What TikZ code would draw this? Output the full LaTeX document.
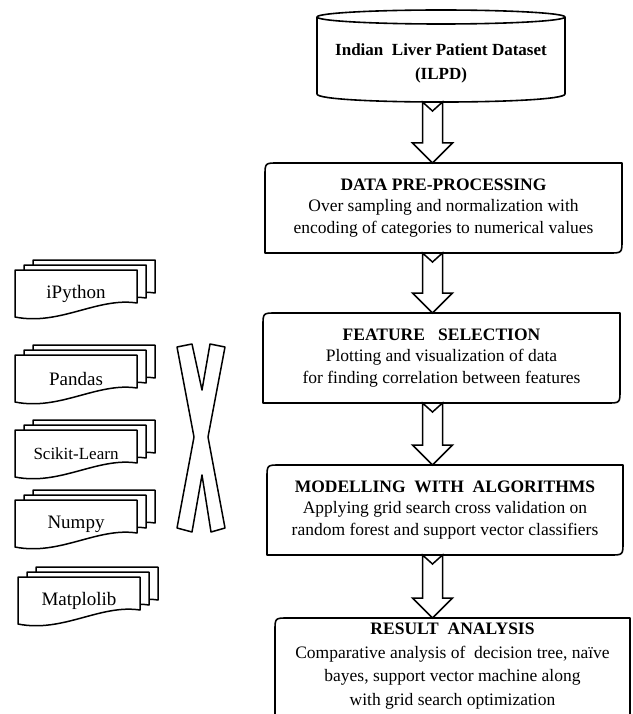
\documentclass[tikz,border=0pt]{standalone}
\usepackage{fontspec}
\setmainfont{Liberation Serif}
\usetikzlibrary{calc}
\newcommand{\flowbox}[1]{%
  \draw[boxline] (#1.south west) -- ($(#1.north west)+(0,13)$)
    .. controls (#1.north west) .. ($(#1.north west)+(13,0)$)
    -- (#1.north east) -- ($(#1.south east)+(0,-13)$)
    .. controls (#1.south east) .. ($(#1.south east)+(-13,0)$) -- cycle;}
\newcommand{\hollowarrow}[2]{%
  \draw[arrowline] ($(ax |- #1.south)+(-10,0)$) -- ++(10,9) -- ++(10,-9)
    -- ($(ax |- #2.north)+(10,-20)$) -- ++(10,0) -- (ax |- #2.north)
    -- ++(-20,-20) -- ++(10,0) -- cycle;}
\newcommand{\docstack}[4]{%
  \foreach \k in {2,1,0}
    \draw[docline,shift={(#2+9*\k,#3-5*\k)}] (0,0) -- (122,0) -- (122,33)
      .. controls (82,27) and (45,56) .. (0,47) -- cycle;
  \node[doctext] (#1) at (#2+61,#3+24) {#4};}

\begin{document}
\begin{tikzpicture}[x=1pt,y=-1pt,
    boxline/.style={line width=1.6pt,line join=round},
    arrowline/.style={line width=1.5pt,fill=white},
    docline/.style={line width=1.5pt,fill=white,line join=round},
    stage/.style={inner sep=0pt,outer sep=0pt,minimum width=357pt,
      minimum height=90pt,align=center,font=\fontsize{17.5}{21.5}\selectfont},
    doctext/.style={inner sep=0pt,font=\fontsize{19}{22}\selectfont}]
    \useasboundingbox (0,0) rectangle (632,714);
    \clip (0,0) rectangle (632,714);
    \coordinate (ax) at (432.5,0);
    % flow on the right
    \node[stage,minimum width=248pt,minimum height=78pt,
      font=\bfseries\fontsize{17}{24}\selectfont] (ilpd) at (441,63)
      {Indian\ \ Liver Patient Dataset\\(ILPD)};
    \node[stage] (prep) at (443.5,208) {\textbf{DATA PRE-PROCESSING}\\
      Over sampling and normalization with\\
      encoding of categories to numerical values};
    \node[stage] (feat) at (441.5,358) {\textbf{FEATURE\ \ \ SELECTION}\\
      Plotting and visualization of data\\
      for finding correlation between features};
    \node[stage,minimum width=356pt] (model) at (445,510)
      {\textbf{MODELLING\ \ WITH\ \ ALGORITHMS}\\
      Applying grid search cross validation on\\
      random forest and support vector classifiers};
    \node[stage,minimum width=355pt,minimum height=122pt] (result) at (452.5,679)
      {\parbox[c][122pt][t]{355pt}{\centering\fontsize{17.5}{23.5}\selectfont
      \vspace*{5pt}\textbf{RESULT\ \ ANALYSIS}\\
      Comparative analysis of\ \ decision tree, naïve\\
      bayes, support vector machine along\\
      with grid search optimization}};
    \draw[boxline] ($(ilpd.north west)+(0,-7)$) -- ($(ilpd.south west)+(0,-8)$)
      .. controls ($(ilpd.south west)+(0,2.7)$) and ($(ilpd.south east)+(0,2.7)$)
      .. ($(ilpd.south east)+(0,-8)$) -- ($(ilpd.north east)+(0,-7)$);
    \draw[boxline] ($(ilpd.north)+(0,-7)$) ellipse [x radius=124,y radius=7];
    \flowbox{prep}
    \flowbox{feat}
    \flowbox{model}
    \flowbox{result}
    \hollowarrow{ilpd}{prep}
    \hollowarrow{prep}{feat}
    \hollowarrow{feat}{model}
    \hollowarrow{model}{result}
    % tools on the left
    \docstack{ipython}{15}{270}{iPython}
    \docstack{pandas}{15}{355}{Pandas}
    \docstack{sklearn}{15}{430}{\fontsize{17}{20}\selectfont Scikit-Learn}
    \docstack{numpy}{15}{500}{Numpy}
    \docstack{mpl}{18}{577}{Matplolib}
    \draw[docline] (177,347) -- (192,344) -- (202,390) -- (210,344) -- (225,347)
      -- (208,437) -- (225,528) -- (211,532) -- (202,475) -- (192,532)
      -- (177,528) -- (194,437) -- cycle;
\end{tikzpicture}
\end{document}
